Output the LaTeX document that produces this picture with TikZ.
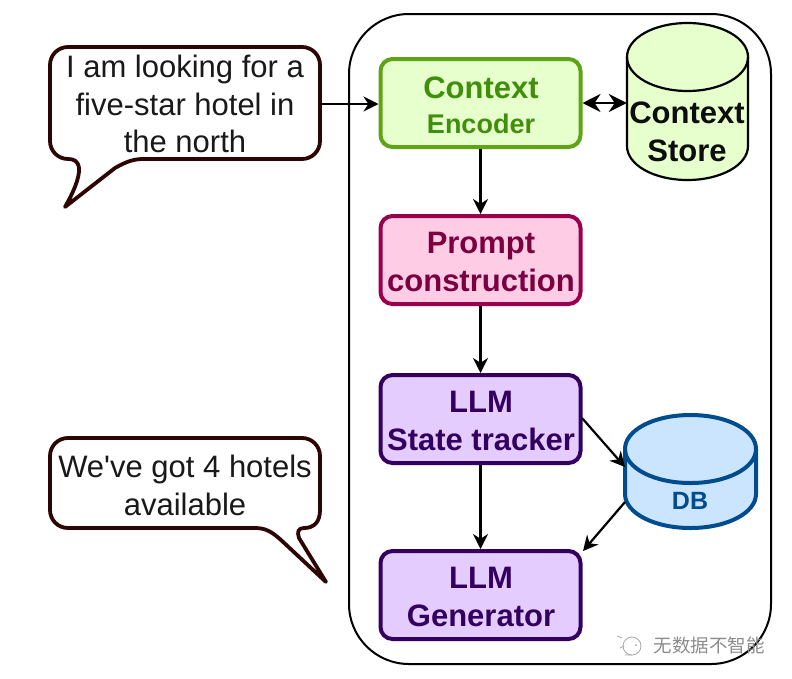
\documentclass[tikz,border=0pt]{standalone}
\usepackage{fontspec}
\setmainfont{Liberation Sans}
\newfontfamily\cjkwm{Noto Sans CJK SC}
\usetikzlibrary{arrows.meta}
\definecolor{gfill}{HTML}{E6FFCC}
\definecolor{gline}{HTML}{5FA316}
\definecolor{gtext}{HTML}{3F8F0A}
\definecolor{pfill}{HTML}{FFCCE6}
\definecolor{pline}{HTML}{99004D}
\definecolor{ptext}{HTML}{7A0040}
\definecolor{vfill}{HTML}{E5CCFF}
\definecolor{vline}{HTML}{33005F}
\definecolor{bfill}{HTML}{CCE5FF}
\definecolor{bline}{HTML}{004C8F}
\definecolor{bubble}{HTML}{2E0505}
\tikzset{
  x=1pt,y=-1pt,
  procbox/.style={draw,line width=4pt,rounded corners=12pt,minimum width=200pt,minimum height=88pt,inner sep=0pt,align=center,font=\bfseries\fontsize{31}{38}\selectfont},
  anchorbox/.style={inner sep=0pt,align=center},
  bubbleline/.style={draw=bubble,fill=white,line width=3.8pt,line join=round},
  saytext/.style={inner sep=0pt,align=center,text=black!90,font=\fontsize{31}{37.5}\selectfont},
  boxtext/.style={inner sep=0pt,align=center,font=\bfseries\fontsize{31}{38}\selectfont},
  link/.style={line width=2.2pt,-{Stealth[length=15pt,width=15pt]}},
  biglink/.style={line width=2.2pt,{Stealth[length=18pt,width=18pt]}-{Stealth[length=18pt,width=18pt]}},
}
\begin{document}
\begin{tikzpicture}
\useasboundingbox (0,0) rectangle (792,678);
% outer container
\node[draw,line width=2pt,rounded corners=60pt,minimum width=422pt,minimum height=650pt,inner sep=0pt] (frame) at (560,339) {};
% speech bubbles
\draw[bubbleline] (68,47) -- (302,47) .. controls (312,47) and (320,55) .. (320,65)
  -- (320,141) .. controls (320,151) and (312,159) .. (302,159)
  -- (143,159) .. controls (132,159) and (124,163) .. (115,168) -- (65,207)
  .. controls (72,195) and (80,178) .. (79,168) .. controls (78,161) and (74,159) .. (68,159)
  .. controls (58,159) and (50,151) .. (50,141) -- (50,65)
  .. controls (50,55) and (58,47) .. (68,47) -- cycle;
\node[saytext] (say1) at (185,104) {I am looking for a\\five-star hotel in\\the north};
\coordinate (say1out) at (320,104);
\draw[bubbleline] (68,438) -- (302,438) .. controls (312,438) and (320,446) .. (320,456)
  -- (320,510) .. controls (320,522) and (314,528) .. (304,528)
  .. controls (298,528) and (297,532) .. (299,538) -- (326,582) -- (281,540)
  .. controls (272,532) and (266,528) .. (255,528) -- (68,528)
  .. controls (58,528) and (50,520) .. (50,510) -- (50,456)
  .. controls (50,446) and (58,438) .. (68,438) -- cycle;
\node[saytext] (say2) at (185,485.5) {We\textquotesingle ve got 4 hotels\\available};
% process boxes
\node[procbox,draw=gline,fill=gfill] (enc) at (480.5,103) {};
\node[boxtext,text=gtext] (enctext) at (481,105) {Context\\[-3pt]{\fontsize{27}{30}\selectfont Encoder}};
\node[procbox,draw=pline,fill=pfill] (prompt) at (480.5,260) {};
\node[boxtext,text=ptext] (prompttext) at (481,262) {Prompt\\construction};
\node[procbox,draw=vline,fill=vfill] (state) at (480.5,419) {};
\node[boxtext,text=vline] (statetext) at (481,421) {LLM\\State tracker};
\node[procbox,draw=vline,fill=vfill] (gen) at (480.5,595) {};
\node[boxtext,text=vline] (gentext) at (481,597) {LLM\\Generator};
% context store cylinder
\draw[line width=2.2pt,fill=gfill] (627,57) -- (627,146) .. controls (627,165) and (654,180) .. (687.5,180)
  .. controls (721,180) and (748,165) .. (748,146) -- (748,57)
  .. controls (748,38) and (721,23) .. (687.5,23) .. controls (654,23) and (627,38) .. (627,57) -- cycle;
\draw[line width=2.2pt] (627,57) .. controls (627,76) and (654,91) .. (687.5,91) .. controls (721,91) and (748,76) .. (748,57);
\node[anchorbox,minimum width=121pt,minimum height=157pt] (store) at (687.5,101.5) {};
\node[boxtext,text=black!95] (storetext) at (687,132) {Context\\Store};
% DB cylinder
\draw[line width=4pt,draw=bline,fill=bfill] (625,449) -- (625,494) .. controls (625,513) and (654,528) .. (690.5,528)
  .. controls (727,528) and (756,513) .. (756,494) -- (756,449)
  .. controls (756,430) and (727,415) .. (690.5,415) .. controls (654,415) and (625,430) .. (625,449) -- cycle;
\draw[line width=4pt,draw=bline] (625,449) .. controls (625,468) and (654,483) .. (690.5,483) .. controls (727,483) and (756,468) .. (756,449);
\node[anchorbox,minimum width=131pt,minimum height=113pt] (db) at (690.5,471.5) {};
\node[anchorbox,text=bline,font=\bfseries\fontsize{25}{28}\selectfont] (dbtext) at (690,501) {DB};
% connectors
\coordinate (stateout) at (582,418);
\coordinate (dbin) at (625,467);
\coordinate (dbout) at (625,502);
\coordinate (genin) at (583,551);
\draw[link] (say1out) -- (say1out -| enc.west);
\draw[biglink] (enc.east) -- (store.west |- enc.east);
\draw[link] (enc.south) -- (prompt.north);
\draw[link] (prompt.south) -- (state.north);
\draw[link] (state.south) -- (gen.north);
\draw[link] (stateout) -- (dbin);
\draw[link] (dbout) -- (genin);
% watermark
\node[inner sep=0pt,text=black!45,font=\cjkwm\fontsize{18.5}{20}\selectfont] (mark) at (709,645) {无数据不智能};
\begin{scope}[draw=black!35,line width=.8pt]
\draw (632,646) circle[radius=9pt];
\draw (617,636) -- (622,638) (620,648) -- (624,646) (625,655) -- (632,655);
\fill[black!35] (636,645) circle[radius=1pt];
\end{scope}
\end{tikzpicture}
\end{document}
